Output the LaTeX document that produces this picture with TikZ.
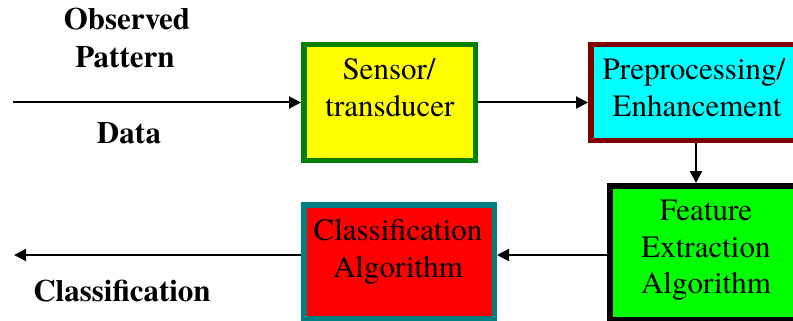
\documentclass[tikz,border=0pt]{standalone}
\usepackage{fontspec}
\setmainfont{texgyretermes-regular.otf}[BoldFont=texgyretermes-bold.otf]
\usetikzlibrary{arrows.meta,calc}
\definecolor{bgreen}{RGB}{0,128,0}
\definecolor{bmaroon}{RGB}{128,0,0}
\definecolor{bteal}{RGB}{0,128,128}
\definecolor{fyellow}{RGB}{255,255,0}
\definecolor{fcyan}{RGB}{0,255,255}
\definecolor{flime}{RGB}{0,255,0}
\definecolor{fred}{RGB}{255,0,0}
\tikzset{
  box/.style={rectangle, line width=5.5pt, inner sep=0pt},
  txt/.style={anchor=base, inner sep=0pt, font=\fontsize{31}{37}\selectfont},
  btxt/.style={anchor=base, inner sep=0pt, font=\fontsize{31}{37}\selectfont\bfseries},
  conn/.style={line width=2pt, -{Triangle[length=12pt,width=12pt]}}
}
\begin{document}
\begin{tikzpicture}[x=1pt,y=-1pt]
\useasboundingbox (0,0) rectangle (793,321);
\clip (0,0) rectangle (793,321);
% boxes
\node[box, draw=bgreen, fill=fyellow, minimum width=171.5pt, minimum height=115.5pt] (sensor) at (389.5,102.5) {};
\node[box, draw=bmaroon, fill=fcyan, minimum width=226.5pt, minimum height=95.5pt] (pre) at (704,92.5) {};
\node[box, draw=black, fill=flime, minimum width=207.5pt, minimum height=133.5pt] (feat) at (713.5,252.5) {};
\node[box, draw=bteal, fill=fred, minimum width=190.5pt, minimum height=113.5pt] (cls) at (399,261.5) {};
% box texts
\node[txt] (s1) at (389,80) {Sensor/};
\node[txt] (s2) at (390,117) {transducer};
\node[txt] (p1) at (694,80) {Preprocessing/};
\node[txt] (p2) at (697,117) {Enhancement};
\node[txt] (f1) at (706,220) {Feature};
\node[txt] (f2) at (706,257) {Extraction};
\node[txt] (f3) at (706,293) {Algorithm};
\node[txt] (c1) at (398,240) {Classification};
\node[txt] (c2) at (398,277) {Algorithm};
% side labels
\node[btxt] (obs) at (127,30) {Observed};
\node[btxt] (pat) at (125,68) {Pattern};
\node[btxt] (dat) at (129,143) {Data};
\node[btxt] (out) at (122,301) {Classification};
% connector helpers
\coordinate (inp) at (13,102.5);
\coordinate (outp) at (14,255);
\coordinate (dx) at (696,0);
\coordinate (ay) at (0,255);
% connectors
\draw[conn] (inp) -- (sensor.west);
\draw[conn] (sensor.east) -- (sensor.east -| pre.west);
\draw[conn] (pre.south -| dx) -- (feat.north -| dx);
\draw[conn] (feat.west |- ay) -- (cls.east |- ay);
\draw[conn] (cls.west |- ay) -- (outp);
\end{tikzpicture}
\end{document}
